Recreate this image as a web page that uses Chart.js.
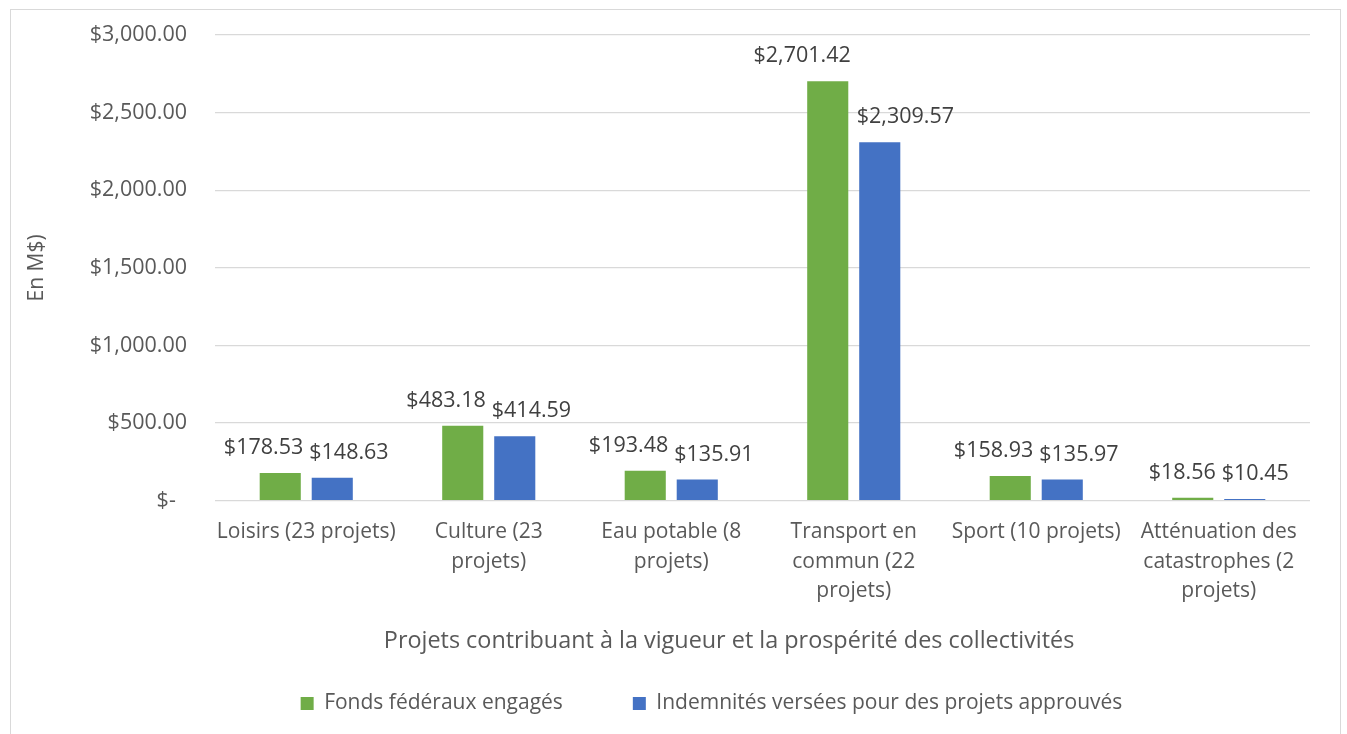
<!DOCTYPE html>
<html>
<head>
<meta charset="utf-8">
<script src="https://cdn.jsdelivr.net/npm/chart.js@4.4.1/dist/chart.umd.min.js"></script>
<style>
  html, body { margin: 0; padding: 0; background: #fff; overflow: hidden; }
  #frame { position: absolute; left: 10px; top: 9px; width: 1329px; height: 800px; border: 1px solid #d9d9d9; }
  #box { position: absolute; left: 0; top: 0; width: 1329px; height: 714px; }
</style>
</head>
<body>
<div id="frame"><div id="box"><canvas id="chart"></canvas></div></div>
<script>
// ===== Projets contribuant à la vigueur et la prospérité des collectivités =====

const categories = [
  ['Loisirs (23 projets)'],
  ['Culture (23', 'projets)'],
  ['Eau potable (8', 'projets)'],
  ['Transport en', 'commun (22', 'projets)'],
  ['Sport (10 projets)'],
  ['Atténuation des', 'catastrophes (2', 'projets)'],
];
const fondsEngages = [178.53, 483.18, 193.48, 2701.42, 158.93, 18.56];
const indemnitesVersees = [148.63, 414.59, 135.91, 2309.57, 135.97, 10.45];
const seriesNames = ['Fonds fédéraux engagés', 'Indemnités versées pour des projets approuvés'];
const xTitle = 'Projets contribuant à la vigueur et la prospérité des collectivités';
const yTitle = 'En M$)';
const GREEN = '#70AD47';
const BLUE = '#4472C4';
const FONT = "'Open Sans', sans-serif";

const money = v => '$' + v.toLocaleString('en-US', { minimumFractionDigits: 2, maximumFractionDigits: 2 });

// étiquettes de données au-dessus des barres, écartées si elles se chevauchent
const barLabels = {
  id: 'barLabels',
  afterLayout(chart) {
    // légende décalée vers la droite comme dans Excel
    chart.legend.left += 45;
    chart.legend.right += 45;
  },
  afterDatasetsDraw(chart) {
    const ctx = chart.ctx;
    ctx.save();
    ctx.font = '21.5px ' + FONT;
    ctx.fillStyle = '#404040';
    ctx.textAlign = 'center';
    ctx.textBaseline = 'middle';
    const m0 = chart.getDatasetMeta(0), m1 = chart.getDatasetMeta(1);
    categories.forEach((c, i) => {
      const a = m0.data[i], b = m1.data[i];
      const ta = money(fondsEngages[i]), tb = money(indemnitesVersees[i]);
      let xa = a.x, xb = b.x;
      const wa = ctx.measureText(ta).width, wb = ctx.measureText(tb).width;
      const overlap = (xa + wa / 2 + 6) - (xb - wb / 2);
      if (overlap > 0) { xa -= overlap / 2; xb += overlap / 2; }
      ctx.fillText(ta, xa, a.y - 25);
      ctx.fillText(tb, xb, b.y - 25);
    });
    ctx.restore();
  }
};

new Chart(document.getElementById('chart'), {
  type: 'bar',
  data: {
    labels: categories,
    datasets: [
      { label: seriesNames[0], data: fondsEngages, backgroundColor: GREEN, categoryPercentage: 0.57, barPercentage: 0.79 },
      { label: seriesNames[1], data: indemnitesVersees, backgroundColor: BLUE, categoryPercentage: 0.57, barPercentage: 0.79 },
    ],
  },
  options: {
    responsive: true,
    maintainAspectRatio: false,
    animation: false,
    layout: { padding: { left: 12, right: 30, top: 25, bottom: 0 } },
    plugins: {
      tooltip: { enabled: false },
      legend: {
        position: 'bottom',
        labels: { boxWidth: 13, boxHeight: 13, padding: 70, color: '#595959', font: { family: FONT, size: 21 } },
      },
    },
    scales: {
      x: {
        grid: { display: false, drawTicks: false },
        border: { display: false },
        ticks: { color: '#595959', padding: 17, maxRotation: 0, font: { family: FONT, size: 21, lineHeight: 1.4 } },
        title: { display: true, text: xTitle + ' '.repeat(11), color: '#595959', padding: { top: 4, bottom: -32 }, font: { family: FONT, size: 23.4 } },
      },
      y: {
        min: 0,
        max: 3000,
        afterFit: s => { s.width = 192; s.paddingTop = 13; s.paddingBottom = 13; },
        grid: { color: '#d9d9d9', lineWidth: 1.3, drawTicks: false },
        border: { display: false },
        ticks: {
          stepSize: 500,
          padding: 28,
          color: '#595959',
          font: { family: FONT, size: 21.5 },
          callback: v => v === 0 ? '$-  ' : money(v),
        },
        title: { display: true, text: yTitle, color: '#595959', padding: { top: 1, bottom: 0 }, font: { family: FONT, size: 21 } },
      },
    },
  },
  plugins: [barLabels],
});
</script>
</body>
</html>
